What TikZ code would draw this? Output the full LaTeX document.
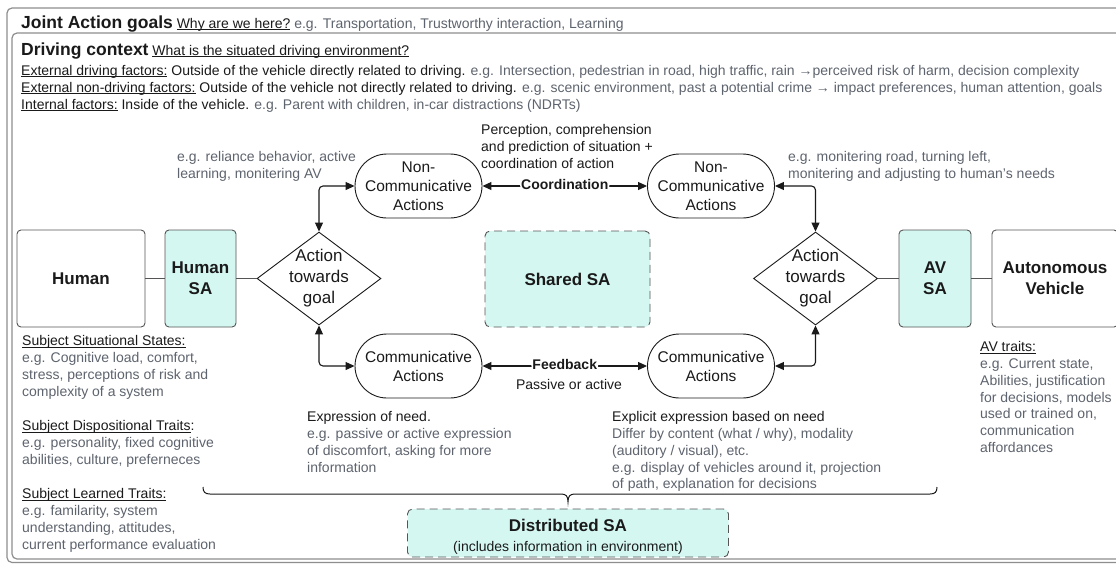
\documentclass[tikz,border=0pt]{standalone}
\usepackage{fontspec}
\setmainfont{Liberation Sans}
\usetikzlibrary{arrows.meta,shapes.geometric}
\definecolor{cyanfill}{HTML}{D5F7F2}
\definecolor{txtgray}{HTML}{5E646E}
\definecolor{framegray}{HTML}{8E8E8E}
\definecolor{boxgray}{HTML}{555555}
\definecolor{ink}{HTML}{1A1A1A}
\newsavebox\ulbox
\newcommand{\myul}[1]{\sbox\ulbox{#1}\rlap{\rule[-2pt]{\wd\ulbox}{0.8pt}}\usebox\ulbox}
\newcommand{\fsb}{\fontsize{14}{16.9}\selectfont}
\newcommand{\fst}{\fontsize{17.5}{21}\selectfont\bfseries}
\newcommand{\egc}[1]{\textcolor{txtgray}{#1}}
\tikzset{
  box/.style={draw=boxgray, line width=0.9pt, rounded corners=4pt, minimum height=97pt,
    font=\fontsize{17}{21}\selectfont\bfseries, align=center, inner sep=0pt, text=ink, fill=white},
  sabox/.style={box, fill=cyanfill},
  dashbox/.style={draw=boxgray, dash pattern=on 8pt off 5pt, line width=0.9pt, fill=cyanfill,
    rounded corners=5pt, align=center, inner sep=0pt, text=ink},
  pill/.style={draw=ink, line width=0.9pt, rounded corners=32pt, minimum width=127pt,
    minimum height=64pt, inner sep=0pt, align=center, font=\fontsize{15.5}{19}\selectfont,
    text=ink, fill=white},
  dia/.style={diamond, draw=ink, line width=0.9pt, minimum width=124pt, minimum height=93pt,
    inner sep=0pt, fill=white},
  dialabel/.style={align=center, font=\fontsize{17}{21}\selectfont, text=ink, inner sep=0pt},
  link/.style={draw=boxgray, line width=1pt},
  arr/.style={draw=ink, line width=1.1pt, {Triangle[length=9pt,width=8pt]}-{Triangle[length=9pt,width=8pt]},
    rounded corners=4pt},
  txt/.style={inner sep=0pt, font=\fsb, text=ink, align=left},
  lbl/.style={fill=white, inner sep=1pt, font=\fsb\bfseries, text=ink, yshift=2pt},
}
\begin{document}
\begin{tikzpicture}[x=1pt,y=-1pt]
\clip (0,0) rectangle (1116,566);
\fill[white] (0,0) rectangle (1116,566);
% frames
\draw[framegray, line width=1.2pt, rounded corners=5pt] (7,8) rectangle (1140,562.5);
\draw[framegray, line width=1.2pt, rounded corners=5pt] (12,33) rectangle (1140,559);

% header texts
\node[txt, anchor=base west] (jag) at (21,28) {{\fst Joint Action goals} \myul{Why are we here?} \egc{e.g. Transportation, Trustworthy interaction, Learning}};
\node[txt, anchor=base west] (dc) at (21,55) {{\fst Driving context} \myul{What is the situated driving environment?}};
\node[txt, anchor=base west] (l1) at (21,75) {\myul{External driving factors:} Outside of the vehicle directly related to driving. \egc{e.g. Intersection, pedestrian in road, high traffic, rain →perceived risk of harm, decision complexity}};
\node[txt, anchor=base west] (l2) at (21,92) {\myul{External non-driving factors:} Outside of the vehicle not directly related to driving. \egc{e.g. scenic environment, past a potential crime → impact preferences, human attention, goals}};
\node[txt, anchor=base west] (l3) at (21,109) {\myul{Internal factors:} Inside of the vehicle. \egc{e.g. Parent with children, in-car distractions (NDRTs)}};

% main nodes
\node[box, minimum width=128pt] (human) at (81,278.5) {Human};
\node[sabox, minimum width=71pt] (hsa) at (200.5,278.5) {Human\\SA};
\node[dia] (dl) at (319,278.5) {};
\node[dialabel] (dlt) at (dl.center) {Action\\towards\\goal};
\node[pill] (ncal) at (418.5,186) {Non-\\Communicative\\Actions};
\node[pill] (cal) at (418.5,366) {Communicative\\Actions};
\node[dashbox, minimum width=165pt, minimum height=96pt, font=\fontsize{17}{21}\selectfont\bfseries] (shared) at (567.5,279) {Shared SA};
\node[pill] (ncar) at (711,186) {Non-\\Communicative\\Actions};
\node[pill] (car) at (711,366) {Communicative\\Actions};
\node[dia] (dr) at (815.5,278.5) {};
\node[dialabel] (drt) at (dr.center) {Action\\towards\\goal};
\node[sabox, minimum width=72pt] (avsa) at (935,278.5) {AV\\SA};
\node[box, minimum width=126pt] (av) at (1055,278.5) {Autonomous\\Vehicle};
\node[dashbox, minimum width=321pt, minimum height=48pt] (dist) at (568,533) {};
\node[align=center, inner sep=0pt, text=ink, font=\fsb] (distt) at (568,536.5)
  {{\fontsize{17}{20}\selectfont\bfseries Distributed SA}\\[3pt](includes information in environment)};

% connectors
\draw[link] (human.east) -- (hsa.west);
\draw[link] (hsa.east) -- (dl.west);
\draw[link] (dr.east) -- (avsa.west);
\draw[link] (avsa.east) -- (av.west);
\draw[arr] (dl.north) |- (ncal.west);
\draw[arr] (dl.south) |- (cal.west);
\draw[arr] (dr.north) |- (ncar.east);
\draw[arr] (dr.south) |- (car.east);
\draw[arr] (ncal.east) -- node[lbl] (coord) {Coordination} (ncar.west);
\draw[arr] (cal.east) -- node[lbl] (fb) {Feedback} (car.west);
\node[txt] (passive) at (569,384) {Passive or active};

% brace
\draw[ink, line width=1pt] (203,487) .. controls (203,492) and (205,494) .. (210,494) -- (561,494)
  .. controls (566,494) and (568,496) .. (568,502) .. controls (568,496) and (570,494) .. (575,494)
  -- (930,494) .. controls (935,494) and (937,492) .. (937,487);

% annotation texts
\node[txt, anchor=north west] (percep) at (481,124) {Perception, comprehension\\and prediction of situation +\\coordination of action};
\node[txt, anchor=north west, text=txtgray] (relL) at (177,151) {e.g. reliance behavior, active\\learning, monitering AV};
\node[txt, anchor=north west, text=txtgray] (relR) at (788,151) {e.g. monitering road, turning left,\\monitering and adjusting to human's needs};
\node[txt, anchor=north west, text=txtgray] (expr) at (307,411) {\textcolor{ink}{Expression of need.}\\e.g. passive or active expression\\of discomfort, asking for more\\information};
\node[txt, anchor=north west, text=txtgray] (expl) at (612,411) {\textcolor{ink}{Explicit expression based on need}\\Differ by content (what / why), modality\\(auditory / visual), etc.\\e.g. display of vehicles around it, projection\\of path, explanation for decisions};
\node[txt, anchor=north west, text=txtgray] (avtr) at (980,341) {\textcolor{ink}{\myul{AV traits:}}\\e.g. Current state,\\Abilities, justification\\for decisions, models\\used or trained on,\\communication\\affordances};
\node[txt, anchor=north west, text=txtgray] (s1) at (22,335) {\textcolor{ink}{\myul{Subject Situational States:}}\\e.g. Cognitive load, comfort,\\stress, perceptions of risk and\\complexity of a system};
\node[txt, anchor=north west, text=txtgray] (s2) at (22,420) {\textcolor{ink}{\myul{Subject Dispositional Traits}:}\\e.g. personality, fixed cognitive\\abilities, culture, preferneces};
\node[txt, anchor=north west, text=txtgray] (s3) at (22,488) {\textcolor{ink}{\myul{Subject Learned Traits:}}\\e.g. familarity, system\\understanding, attitudes,\\current performance evaluation};
\end{tikzpicture}
\end{document}
